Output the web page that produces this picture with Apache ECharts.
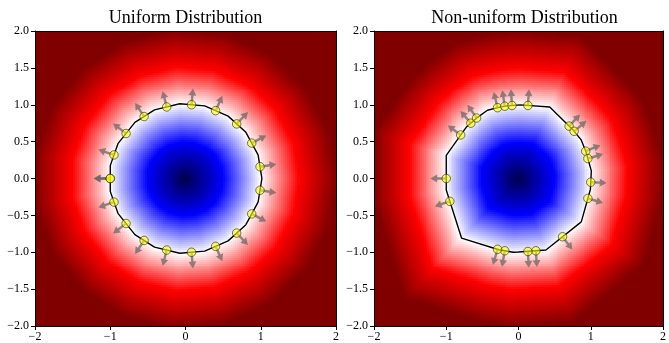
<!DOCTYPE html>
<html><head><meta charset="utf-8">
<script src="https://cdn.jsdelivr.net/npm/echarts@6/dist/echarts.min.js"></script>
<style>html,body{margin:0;padding:0;background:#fff}#c{width:669px;height:343px}</style>
</head><body><div id="c"></div>
<script>
// ---- data ----
const titles = ['Uniform Distribution', 'Non-uniform Distribution'];
const xTickValues = [-2, -1, 0, 1, 2];
const yTickValues = [-2.0, -1.5, -1.0, -0.5, 0.0, 0.5, 1.0, 1.5, 2.0];

// sample points (on the unit circle) – uniform panel (first point repeated at the end)
const uniformX = [-1.00,-0.95,-0.79,-0.55,-0.25,0.08,0.40,0.68,0.88,0.99,0.99,0.88,0.68,0.40,0.08,-0.25,-0.55,-0.79,-0.95,-1.00];
const uniformY = [0.00,0.32,0.61,0.84,0.97,1.00,0.92,0.74,0.48,0.16,-0.16,-0.48,-0.74,-0.92,-1.00,-0.97,-0.84,-0.61,-0.32,0.00];
// normal directions (degrees) read from the arrows
const uniformNormalDeg = [180,161,142,123,104,85,66,47,28,9,-9,-28,-47,-66,-85,-104,-123,-142,-161,180];

// non-uniform panel
const nonUniformX = [-1.00,-0.80,-0.66,-0.58,-0.29,-0.19,-0.09,0.13,0.70,0.77,0.93,0.96,1.00,0.96,0.61,0.24,0.13,-0.19,-0.29,-0.95];
const nonUniformY = [0.00,0.59,0.75,0.82,0.96,0.98,0.99,0.99,0.71,0.64,0.37,0.27,-0.05,-0.27,-0.79,-0.98,-0.99,-0.98,-0.96,-0.31];
const nonUniformNormalDeg = [180,144,131,125,104,99,94,86,46,40,22,16,-3,-16,-52,-86,-87,-100,-107,-162];

const fieldMin = -1, fieldMax = 1;
const seismic = ['#00004d', '#0000ff', '#ffffff', '#ff0000', '#800000'];
const GRID_N = 150;
const ARROW_LEN = 0.22;

// ---- derived ----
function planes(xs, ys, degs) {
  return xs.map((x, i) => {
    const a = degs[i] * Math.PI / 180;
    return { p: [x, ys[i]], n: [Math.cos(a), Math.sin(a)] };
  });
}
function field(pl, x, y) {
  let m = -Infinity;
  for (const q of pl) {
    const v = q.n[0] * (x - q.p[0]) + q.n[1] * (y - q.p[1]);
    if (v > m) m = v;
  }
  return m;
}
function heatData(pl) {
  const out = [];
  const step = 4 / GRID_N;
  for (let i = 0; i < GRID_N; i++) {
    for (let j = 0; j < GRID_N; j++) {
      const x = -2 + step * (i + 0.5), y = -2 + step * (j + 0.5);
      out.push([x, y, field(pl, x, y)]);
    }
  }
  return out;
}
function zeroContour(pl) {
  let poly = [[-3,-3],[3,-3],[3,3],[-3,3]];
  for (const q of pl) {
    const c = q.n[0]*q.p[0] + q.n[1]*q.p[1];
    const out = [];
    for (let i = 0; i < poly.length; i++) {
      const A = poly[i], B = poly[(i+1) % poly.length];
      const da = q.n[0]*A[0] + q.n[1]*A[1] - c, db = q.n[0]*B[0] + q.n[1]*B[1] - c;
      if (da <= 0) out.push(A);
      if ((da < 0 && db > 0) || (da > 0 && db < 0)) {
        const t = da / (da - db);
        out.push([A[0] + t*(B[0]-A[0]), A[1] + t*(B[1]-A[1])]);
      }
    }
    poly = out;
  }
  poly.push(poly[0]);
  return poly;
}
function arrowData(pl) {
  return pl.map(q => [q.p[0], q.p[1], q.p[0] + ARROW_LEN*q.n[0], q.p[1] + ARROW_LEN*q.n[1]]);
}

const plU = planes(uniformX, uniformY, uniformNormalDeg);
const plN = planes(nonUniformX, nonUniformY, nonUniformNormalDeg);
const H = 2 / GRID_N;

function heatRender(params, api) {
  const x = api.value(0), y = api.value(1);
  const a = api.coord([x - H, y + H]), b = api.coord([x + H, y - H]);
  const x0 = Math.floor(a[0]), y0 = Math.floor(a[1]);
  return { type: 'rect', shape: { x: x0, y: y0, width: Math.ceil(b[0]) - x0, height: Math.ceil(b[1]) - y0 },
           style: { fill: api.visual('color') } };
}
function arrowRender(params, api) {
  const p = api.coord([api.value(0), api.value(1)]);
  const t = api.coord([api.value(2), api.value(3)]);
  const dx = t[0]-p[0], dy = t[1]-p[1], L = Math.hypot(dx, dy);
  const ux = dx/L, uy = dy/L, vx = -uy, vy = ux;
  const sw = 1.2, hw = 3.9, hl = 6.8;
  const nx = t[0] - ux*hl, ny = t[1] - uy*hl;
  const pts = [
    [p[0]+vx*sw, p[1]+vy*sw], [nx+vx*sw, ny+vy*sw], [nx+vx*hw, ny+vy*hw], [t[0], t[1]],
    [nx-vx*hw, ny-vy*hw], [nx-vx*sw, ny-vy*sw], [p[0]-vx*sw, p[1]-vy*sw]
  ];
  return { type: 'polygon', shape: { points: pts }, style: { fill: 'rgba(100,100,100,0.72)' } };
}

const font = 'Liberation Serif';
const fmtNum = (v, d) => (v < 0 ? '\u2212' : '') + Math.abs(v).toFixed(d);
const grids = [
  { left: 35, top: 31, width: 301, height: 296 },
  { left: 374, top: 31, width: 301, height: 296 }
];
const xAxes = [], yAxes = [];
[0, 1].forEach(g => {
  xAxes.push({ type: 'value', gridIndex: g, min: -2, max: 2, interval: 1, z: 10,
    axisLine: { show: true, onZero: false, lineStyle: { color: '#000', width: 1 } },
    axisTick: { show: true, length: 4, lineStyle: { color: '#000' } },
    axisLabel: { margin: 5, color: '#000', fontFamily: font, fontSize: 12,
      customValues: xTickValues, formatter: v => fmtNum(v, 0) },
    splitLine: { show: false } });
  xAxes.push({ type: 'value', gridIndex: g, position: 'top', min: -2, max: 2, z: 10,
    axisLine: { show: true, onZero: false, lineStyle: { color: '#000', width: 1 } },
    axisTick: { show: false }, axisLabel: { show: false }, splitLine: { show: false } });
  yAxes.push({ type: 'value', gridIndex: g, min: -2, max: 2, interval: 0.5, z: 10,
    axisLine: { show: true, onZero: false, lineStyle: { color: '#000', width: 1 } },
    axisTick: { show: true, length: 4, lineStyle: { color: '#000' } },
    axisLabel: { margin: 6, color: '#000', fontFamily: font, fontSize: 12,
      customValues: yTickValues, formatter: v => fmtNum(v, 1) },
    splitLine: { show: false } });
  yAxes.push({ type: 'value', gridIndex: g, position: 'right', min: -2, max: 2, z: 10,
    axisLine: { show: true, onZero: false, lineStyle: { color: '#000', width: 1 } },
    axisTick: { show: false }, axisLabel: { show: false }, splitLine: { show: false } });
});

const sets = [plU, plN];
const series = [];
sets.forEach((pl, g) => {
  series.push({ type: 'custom', name: 'field' + g, xAxisIndex: 2*g, yAxisIndex: 2*g, z: 1,
    data: heatData(pl), encode: { x: 0, y: 1 }, renderItem: heatRender, silent: true, progressive: 0 });
});
sets.forEach((pl, g) => {
  series.push({ type: 'line', name: 'contour' + g, xAxisIndex: 2*g, yAxisIndex: 2*g, z: 3,
    data: zeroContour(pl), symbol: 'none', lineStyle: { color: '#000', width: 1.4 }, silent: true });
});
sets.forEach((pl, g) => {
  series.push({ type: 'custom', name: 'normals' + g, xAxisIndex: 2*g, yAxisIndex: 2*g, z: 4,
    data: arrowData(pl), encode: { x: [0, 2], y: [1, 3] }, renderItem: arrowRender, silent: true });
});
const xsArr = [uniformX, nonUniformX], ysArr = [uniformY, nonUniformY];
[0, 1].forEach(g => {
  series.push({ type: 'scatter', name: 'points' + g, xAxisIndex: 2*g, yAxisIndex: 2*g, z: 5,
    data: xsArr[g].map((x, i) => [x, ysArr[g][i]]), symbolSize: 8.5,
    itemStyle: { color: 'rgba(255,255,0,0.58)', borderColor: 'rgba(30,30,30,0.6)', borderWidth: 1, opacity: 1 },
    silent: true });
});

const chart = echarts.init(document.getElementById('c'), null, { renderer: 'canvas' });
chart.setOption({
  animation: false,
  backgroundColor: '#fff',
  title: [
    { text: titles[0], left: 185.5, top: 9, textAlign: 'center', padding: 0,
      textStyle: { fontFamily: font, fontSize: 18, fontWeight: 'normal', color: '#000' } },
    { text: titles[1], left: 524.5, top: 9, textAlign: 'center', padding: 0,
      textStyle: { fontFamily: font, fontSize: 18, fontWeight: 'normal', color: '#000' } }
  ],
  grid: grids,
  xAxis: xAxes,
  yAxis: yAxes,
  visualMap: { type: 'continuous', show: false, min: fieldMin, max: fieldMax, dimension: 2,
    seriesIndex: [0, 1], inRange: { color: seismic } },
  series: series
});
</script>
</body></html>
